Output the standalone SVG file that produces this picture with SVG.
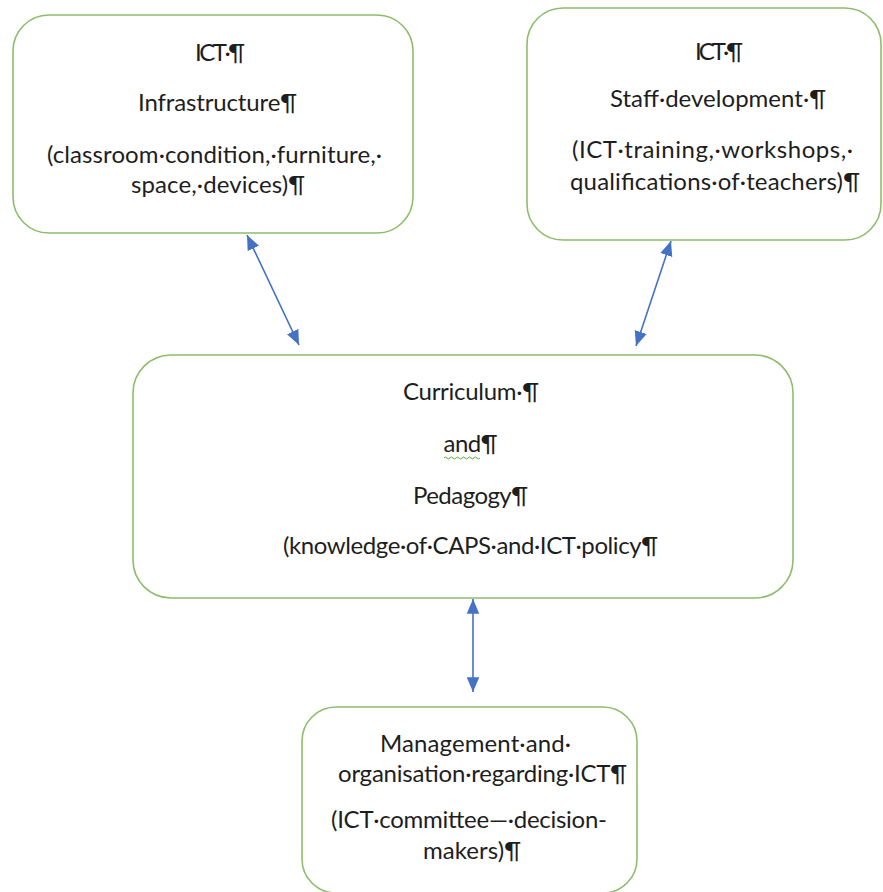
<svg xmlns="http://www.w3.org/2000/svg" width="883" height="892" viewBox="0 0 883 892">
<style>
.box{fill:#ffffff;stroke:#8dbd6c;stroke-width:1.6}
.t{font-family:Lato,"Open Sans","Liberation Sans",sans-serif;font-size:24px;fill:#1e1e1e}
.con{stroke:#4472c4;stroke-width:1.6;fill:none}
</style>
<defs>
<marker id="ah" markerUnits="userSpaceOnUse" markerWidth="16" markerHeight="14" refX="13" refY="5.5" orient="auto-start-reverse" viewBox="0 0 14 11">
<path d="M0,0 L13,5.5 L0,11 z" fill="#4472c4"/>
</marker>
</defs>
<rect width="883" height="892" fill="#ffffff"/>
<g id="connectors">
<line class="con" x1="247" y1="235" x2="299" y2="345" marker-start="url(#ah)" marker-end="url(#ah)"/>
<line class="con" x1="671" y1="241" x2="636" y2="346" marker-start="url(#ah)" marker-end="url(#ah)"/>
<line class="con" x1="473" y1="599" x2="473" y2="692" marker-start="url(#ah)" marker-end="url(#ah)"/>
</g>
<g id="infrastructure">
<rect class="box" x="13" y="15" width="400" height="218" rx="36" ry="36"/>
<text class="t" x="195" y="61" textLength="50">ICT·¶</text>
<text class="t" x="138" y="111" textLength="159">Infrastructure¶</text>
<text class="t" x="47" y="163" textLength="335">(classroom·condition,·furniture,·</text>
<text class="t" x="131" y="193" textLength="174">space,·devices)¶</text>
</g>
<g id="staff">
<rect class="box" x="527" y="8" width="354" height="232" rx="36" ry="36"/>
<text class="t" x="695" y="60" textLength="48">ICT·¶</text>
<text class="t" x="610" y="107" textLength="216">Staff·development·¶</text>
<text class="t" x="572" y="158" textLength="281">(ICT·training,·workshops,·</text>
<text class="t" x="570" y="190" textLength="290">qualifications·of·teachers)¶</text>
</g>
<g id="curriculum">
<rect class="box" x="133" y="355" width="660" height="243" rx="38" ry="38"/>
<text class="t" x="403" y="400" textLength="136">Curriculum·¶</text>
<text class="t" x="443.5" y="452" textLength="54">and¶</text>
<path d="M444,458 q1.5,-2 3,0 t3,0 t3,0 t3,0 t3,0 t3,0 t3,0 t3,0 t3,0 t3,0 t3,0 t3,0" fill="none" stroke="#5ea83a" stroke-width="1"/>
<text class="t" x="413" y="504" textLength="115">Pedagogy¶</text>
<text class="t" x="283" y="554" textLength="375">(knowledge·of·CAPS·and·ICT·policy¶</text>
</g>
<g id="management">
<rect class="box" x="302" y="707" width="335" height="186" rx="34" ry="34"/>
<text class="t" x="380" y="752" textLength="191">Management·and·</text>
<text class="t" x="338" y="782" textLength="289">organisation·regarding·ICT¶</text>
<text class="t" x="331" y="828" textLength="276">(ICT·committee—·decision-</text>
<text class="t" x="423" y="859" textLength="98">makers)¶</text>
</g>
</svg>
